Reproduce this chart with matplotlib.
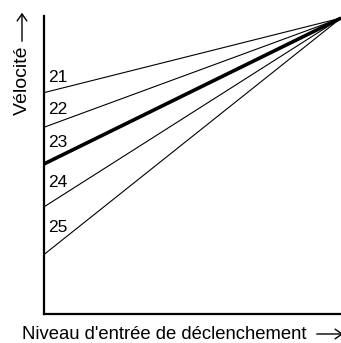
import matplotlib.pyplot as plt
from matplotlib.patches import FancyArrowPatch

plt.rcParams["font.family"] = ["Liberation Sans", "DejaVu Sans"]

curve_names = ["21", "22", "23", "24", "25"]
start_levels = [0.748, 0.631, 0.507, 0.362, 0.201]
label_y = [0.80, 0.692, 0.578, 0.446, 0.292]
line_widths = [0.8, 0.8, 2.6, 0.8, 0.8]

W, H = 341, 343

fig = plt.figure(figsize=(W / 100, H / 100), dpi=100)
ax = fig.add_axes([44 / W, 29 / H, 297 / W, 298 / H])

for name, y0, ly, lw in zip(curve_names, start_levels, label_y, line_widths):
    ax.plot([0, 1], [y0, 1], color="black", lw=lw, clip_on=False, solid_capstyle="butt")
    ax.text(0.014, ly, name, fontsize=12.5, va="center", ha="left")

ax.set_xlim(0, 1)
ax.set_ylim(0, 1.007)
ax.set_xticks([])
ax.set_yticks([])
for side in ["top", "right"]:
    ax.spines[side].set_visible(False)
for side in ["left", "bottom"]:
    ax.spines[side].set_linewidth(1.6)

# axis titles with long arrows
fig.text(27 / W, 1 - 115 / H, "Vélocité", rotation=90, rotation_mode="anchor",
         fontsize=14, ha="left", va="baseline")
fig.text(22 / W, 1 - 339 / H, "Niveau d'entrée de déclenchement", fontsize=13.3,
         ha="left", va="baseline")

for start, end in [((22 / W, 1 - 44 / H), (22 / W, 1 - 10 / H)),
                   ((314 / W, 1 - 334 / H), (346 / W, 1 - 334 / H))]:
    fig.patches.append(FancyArrowPatch(start, end, transform=fig.transFigure,
                                       arrowstyle="->,head_length=5,head_width=3.5",
                                       lw=1.0, color="black", mutation_scale=1))

fig.savefig("out.png", dpi=100)
